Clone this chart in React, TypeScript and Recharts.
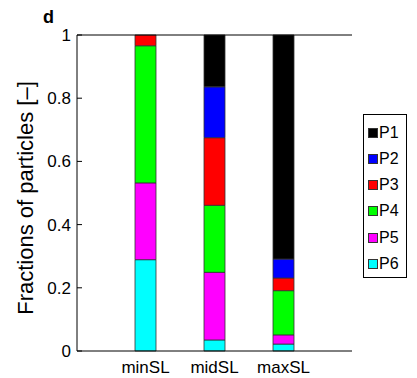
import { Bar, BarChart, ReferenceLine, XAxis, YAxis } from "recharts";

const categories = ["minSL", "midSL", "maxSL"];
const p1 = [0, 0.164, 0.709];
const p2 = [0, 0.161, 0.06];
const p3 = [0.034, 0.214, 0.04];
const p4 = [0.434, 0.212, 0.14];
const p5 = [0.243, 0.214, 0.029];
const p6 = [0.289, 0.035, 0.022];
const yTicks = [0, 0.2, 0.4, 0.6, 0.8, 1];

const series = [
  { key: "P1", values: p1, color: "#000000" },
  { key: "P2", values: p2, color: "#0000ff" },
  { key: "P3", values: p3, color: "#ff0000" },
  { key: "P4", values: p4, color: "#00ff00" },
  { key: "P5", values: p5, color: "#ff00ff" },
  { key: "P6", values: p6, color: "#00ffff" },
];

const data = categories.map((name, i) => {
  const row: Record<string, number | string> = { name };
  series.forEach((s) => (row[s.key] = s.values[i]));
  return row;
});

const font = "'Liberation Sans', Arial, Helvetica, sans-serif";

function AxisTitle() {
  return (
    <g>
      <text transform="translate(33,198) rotate(-90)" textAnchor="middle" fontSize={22} fontFamily={font} fill="#000">
        Fractions of particles [–]
      </text>
      <text x={43} y={23} fontSize={18} fontWeight="bold" fontFamily={font} fill="#000">
        d
      </text>
    </g>
  );
}

// left tick: label plus a short inward tick mark
function LeftTick(props: any) {
  const { x, y, payload } = props;
  return (
    <g>
      <line x1={x + 6} x2={x + 11} y1={y} y2={y} stroke="#000" />
      <text x={x} y={y} dy={6} textAnchor="end" fontSize={17} fontFamily={font} fill="#000">
        {String(payload.value)}
      </text>
    </g>
  );
}

function RightTick(props: any) {
  const { x, y } = props;
  return <line x1={x - 5} x2={x} y1={y} y2={y} stroke="#000" />;
}

export default function App() {
  return (
    <div style={{ position: "absolute", left: 0, top: 0, width: 417, height: 378, background: "#fff" }}>
      <BarChart width={417} height={378} data={data} margin={{ top: 35, right: 65, bottom: 0, left: 0 }}>
        <XAxis
          dataKey="name"
          padding={{ left: 34, right: 34 }}
          tickLine={false}
          tickSize={0}
          tickMargin={10}
          height={27}
          axisLine={{ stroke: "#000" }}
          tick={{ fill: "#000", fontSize: 17, fontFamily: font }}
        />
        <YAxis
          yAxisId="left"
          domain={[0, 1]}
          ticks={yTicks}
          width={77}
          tickSize={0}
          tickMargin={6}
          tickLine={false}
          axisLine={{ stroke: "#000" }}
          tick={<LeftTick />}
          label={{ content: () => <AxisTitle /> }}
        />
        <YAxis
          yAxisId="right"
          orientation="right"
          domain={[0, 1]}
          ticks={yTicks}
          width={0}
          tickSize={0}
          tickMargin={0}
          tickLine={false}
          axisLine={{ stroke: "#000" }}
          tick={<RightTick />}
        />
        <ReferenceLine yAxisId="left" y={1} stroke="#000" />
        {[...series].reverse().map((s) => (
          <Bar
            key={s.key}
            yAxisId="left"
            dataKey={s.key}
            stackId="a"
            fill={s.color}
            stroke="#333"
            strokeWidth={0.8}
            barSize={21}
            isAnimationActive={false}
          />
        ))}
      </BarChart>
      <div
        style={{
          position: "absolute",
          left: 363,
          top: 114,
          width: 42,
          height: 162,
          border: "1px solid #000",
          background: "#fff",
          fontFamily: font,
          fontSize: 16,
        }}
      >
        {series.map((s, i) => (
          <div
            key={s.key}
            style={{
              position: "absolute",
              left: 4,
              top: 17.5 + i * 26.3 - 9,
              height: 18,
              display: "flex",
              alignItems: "center",
            }}
          >
            <span
              style={{
                width: 8,
                height: 8,
                background: s.color,
                border: "1px solid #333",
                marginRight: 1,
              }}
            />
            <span style={{ lineHeight: "18px" }}>{s.key}</span>
          </div>
        ))}
      </div>
    </div>
  );
}
